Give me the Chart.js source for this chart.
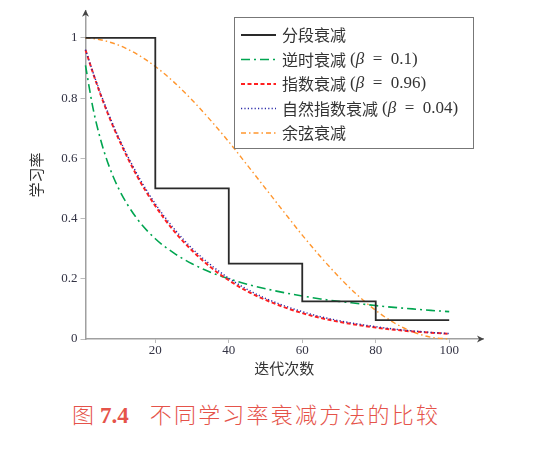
<!DOCTYPE html>
<html>
<head>
<meta charset="utf-8">
<script src="https://cdn.jsdelivr.net/npm/chart.js@4"></script>
<style>
  body { margin: 0; background: #fff; }
  #wrap { position: relative; width: 546px; height: 390px; }
  #caption {
    position: absolute; left: 72px; top: 400px;
    font-family: "Noto Sans CJK SC"; font-size: 22px; font-weight: 300; line-height: 26px;
    color: #e5534a; white-space: nowrap;
  }
  #caption .num { font-family: "Liberation Serif"; font-weight: bold; font-size: 23px; margin-left: 6px; }
  #caption .txt { margin-left: 21px; letter-spacing: 2.2px; }
</style>
</head>
<body>
<div id="wrap"><canvas id="chart"></canvas></div>
<div id="caption"><span>图</span><span class="num">7.4</span><span class="txt">不同学习率衰减方法的比较</span></div>
<script>
// values
const iters = [1, 3, 5, 7, 10, 15, 20, 25, 30, 35, 40, 45, 50, 55, 60, 65, 70, 75, 80, 85, 90, 95, 100]
const inverseDecay = [0.909, 0.769, 0.667, 0.588, 0.5, 0.4, 0.333, 0.286, 0.25, 0.222, 0.2, 0.182, 0.167, 0.154, 0.143, 0.133, 0.125, 0.118, 0.111, 0.105, 0.1, 0.095, 0.091]
const expDecay = [0.96, 0.885, 0.815, 0.751, 0.665, 0.542, 0.442, 0.36, 0.294, 0.239, 0.195, 0.159, 0.13, 0.106, 0.086, 0.07, 0.057, 0.047, 0.038, 0.031, 0.025, 0.021, 0.017]
const natExpDecay = [0.961, 0.887, 0.819, 0.756, 0.67, 0.549, 0.449, 0.368, 0.301, 0.247, 0.202, 0.165, 0.135, 0.111, 0.091, 0.074, 0.061, 0.05, 0.041, 0.033, 0.027, 0.022, 0.018]
const cosineDecay = [1, 0.998, 0.994, 0.988, 0.976, 0.946, 0.905, 0.854, 0.794, 0.727, 0.655, 0.578, 0.5, 0.422, 0.345, 0.273, 0.206, 0.146, 0.095, 0.054, 0.024, 0.006, 0]
const stepIters = [1, 20, 40, 60, 80, 100]
const stepDecay = [1, 0.5, 0.25, 0.125, 0.0625, 0.0625]
const xTicks = [20, 40, 60, 80, 100]
const yTicks = [0, 0.2, 0.4, 0.6, 0.8, 1]

const points = (xs, ys) => xs.map((x, i) => ({ x: x, y: ys[i] }))

const cjkFont = '"Noto Sans CJK SC"'
const serifFont = '"Liberation Serif"'

// legend box drawn inside the plot, top right
const boxLegend = {
  id: 'boxLegend',
  afterDatasetsDraw(chart) {
    const ctx = chart.ctx
    ctx.save()
    ctx.fillStyle = '#fff'
    ctx.fillRect(234.5, 17.5, 239, 131)
    ctx.strokeStyle = '#777'
    ctx.lineWidth = 1
    ctx.strokeRect(234.5, 17.5, 239, 131)
    ctx.textBaseline = 'middle'
    chart.data.datasets.forEach((ds, i) => {
      const y = 35 + i * 24.5
      ctx.setLineDash(ds.borderDash || [])
      ctx.strokeStyle = ds.borderColor
      ctx.lineWidth = ds.borderWidth
      ctx.beginPath()
      ctx.moveTo(241, y)
      ctx.lineTo(276, y)
      ctx.stroke()
      ctx.setLineDash([])

      ctx.fillStyle = '#333'
      const parts = ds.label.split(' (')
      let x = 282
      ctx.font = '16px ' + cjkFont
      ctx.fillText(parts[0], x, y)
      x += ctx.measureText(parts[0]).width + 4
      if (parts[1]) {
        const rest = parts[1].replace('β', '').replace(' = ', '\u2002=\u2002')
        ctx.font = '17px ' + serifFont
        ctx.fillText('(', x, y)
        x += ctx.measureText('(').width
        ctx.font = 'italic 17px ' + serifFont
        ctx.fillText('β', x, y)
        x += ctx.measureText('β').width
        ctx.font = '17px ' + serifFont
        ctx.fillText(rest, x, y)
      }
    })
    ctx.restore()
  }
}

// arrow heads on both axis lines
const axisArrows = {
  id: 'axisArrows',
  afterDraw(chart) {
    const { left, right, top, bottom } = chart.chartArea
    const ctx = chart.ctx
    ctx.save()
    ctx.fillStyle = '#444'
    ctx.beginPath()
    ctx.moveTo(right + 1, bottom)
    ctx.lineTo(right - 6, bottom - 3.5)
    ctx.lineTo(right - 4, bottom)
    ctx.lineTo(right - 6, bottom + 3.5)
    ctx.closePath()
    ctx.fill()
    ctx.beginPath()
    ctx.moveTo(left, top - 1)
    ctx.lineTo(left - 3.5, top + 6)
    ctx.lineTo(left, top + 4)
    ctx.lineTo(left + 3.5, top + 6)
    ctx.closePath()
    ctx.fill()
    ctx.restore()
  }
}

new Chart(document.getElementById('chart').getContext('2d'), {
  type: 'line',
  data: {
    datasets: [{
      label: '分段衰减',
      data: points(stepIters, stepDecay),
      stepped: true,
      borderColor: '#2a2a2a',
      borderWidth: 1.8,
      order: 0
    }, {
      label: '逆时衰减 (β = 0.1)',
      data: points(iters, inverseDecay),
      borderColor: '#00a550',
      borderWidth: 1.6,
      borderDash: [9, 4, 2, 4],
      cubicInterpolationMode: 'monotone',
      order: 3
    }, {
      label: '指数衰减 (β = 0.96)',
      data: points(iters, expDecay),
      borderColor: '#ff2020',
      borderWidth: 2,
      borderDash: [4, 2.5],
      cubicInterpolationMode: 'monotone',
      order: 2
    }, {
      label: '自然指数衰减 (β = 0.04)',
      data: points(iters, natExpDecay),
      borderColor: '#2a2aa8',
      borderWidth: 1.4,
      borderDash: [1.2, 2.2],
      cubicInterpolationMode: 'monotone',
      order: 1
    }, {
      label: '余弦衰减',
      data: points(iters, cosineDecay),
      borderColor: '#ff962e',
      borderWidth: 1.4,
      borderDash: [5, 3, 1.5, 3],
      cubicInterpolationMode: 'monotone',
      order: 4
    }]
  },
  options: {
    responsive: true,
    maintainAspectRatio: false,
    animation: false,
    clip: false,
    layout: { padding: { top: 10, right: 63, left: 0, bottom: 0 } },
    elements: { point: { radius: 0 } },
    plugins: {
      legend: { display: false },
      tooltip: { enabled: false }
    },
    scales: {
      x: {
        type: 'linear',
        min: 1,
        max: 109.2,
        afterBuildTicks: (scale) => { scale.ticks = xTicks.map(v => ({ value: v })) },
        afterFit: (scale) => { scale.height = 51 },
        grid: { drawOnChartArea: false, tickLength: 4, color: '#bbb' },
        border: { color: '#a0a0a0', width: 1.5 },
        ticks: {
          maxRotation: 0,
          padding: 0,
          color: '#333344',
          font: { family: serifFont, size: 13 }
        },
        title: {
          display: true,
          text: '迭代次数',
          color: '#333',
          font: { family: cjkFont, size: 15 },
          padding: { top: 0, bottom: 13 }
        }
      },
      y: {
        min: 0,
        max: 1.09,
        afterBuildTicks: (scale) => { scale.ticks = yTicks.map(v => ({ value: v })) },
        afterFit: (scale) => { scale.width = 85.5 },
        grid: { drawOnChartArea: false, tickLength: 5, color: '#bbb' },
        border: { color: '#a0a0a0', width: 1.5 },
        ticks: {
          padding: 3,
          color: '#333344',
          font: { family: serifFont, size: 13 },
          callback: (v) => String(Math.round(v * 10) / 10)
        },
        title: {
          display: true,
          text: '学习率',
          color: '#333',
          font: { family: cjkFont, size: 15 },
          padding: { top: 27, bottom: 0 }
        }
      }
    }
  },
  plugins: [boxLegend, axisArrows]
})
</script>
</body>
</html>
